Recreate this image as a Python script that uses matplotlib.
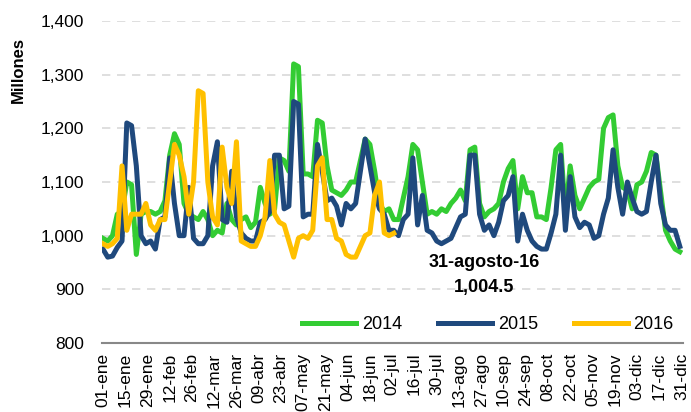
import matplotlib.pyplot as plt
import numpy as np

plt.rcParams['font.family'] = ['Liberation Sans', 'DejaVu Sans']

# valores leidos cada 3 dias (millones)
serie_2014 = [995, 990, 1000, 1040, 1045, 1100, 1095, 965, 1040, 1045, 1045, 1040,
              1045, 1065, 1150, 1190, 1170, 1060, 1040, 1035, 1030, 1045, 1030, 1000,
              1010, 1005, 1060, 1030, 1020, 1030, 1035, 1015, 1025, 1090, 1060, 1040,
              1050, 1145, 1140, 1120, 1320, 1315, 1115, 1115, 1110, 1215, 1210, 1130,
              1085, 1080, 1075, 1085, 1100, 1100, 1140, 1180, 1170, 1120, 1060, 1045,
              1050, 1030, 1030, 1070, 1110, 1170, 1160, 1100, 1040, 1045, 1040, 1050,
              1045, 1060, 1070, 1085, 1065, 1160, 1165, 1060, 1035, 1045, 1050, 1060,
              1100, 1125, 1140, 1050, 1110, 1080, 1080, 1035, 1035, 1030, 1090, 1160,
              1170, 1040, 1130, 1075, 1050, 1070, 1090, 1100, 1105, 1200, 1220, 1225,
              1130, 1090, 1085, 1050, 1095, 1100, 1120, 1155, 1150, 1080, 1010, 990,
              975, 970]
serie_2015 = [975, 960, 962, 978, 990, 1210, 1205, 1130, 1000, 985, 990, 975,
              1030, 1035, 1145, 1060, 1000, 1000, 1090, 995, 985, 985, 1000, 1130,
              1175, 1030, 1025, 1120, 1035, 1005, 995, 990, 990, 1025, 1030, 1045,
              1150, 1150, 1050, 1055, 1250, 1245, 1035, 1040, 1040, 1170, 1120, 1065,
              1070, 1055, 1020, 1060, 1050, 1060, 1120, 1180, 1130, 1080, 1050, 1040,
              1010, 1010, 1000, 1030, 1040, 1145, 1020, 1075, 1010, 1005, 990, 985,
              990, 995, 1015, 1035, 1040, 1150, 1150, 1040, 1010, 1020, 1000, 1025,
              1065, 1075, 1110, 990, 1040, 1010, 990, 980, 975, 975, 1005, 1040,
              1150, 1010, 1110, 1035, 1015, 1025, 1020, 995, 1000, 1040, 1070, 1160,
              1090, 1040, 1100, 1070, 1045, 1040, 1045, 1100, 1150, 1060, 1020, 1010,
              1010, 980]
serie_2016 = [985, 980, 985, 995, 1130, 1010, 1040, 1040, 1040, 1060, 1020, 1010,
              1030, 1030, 1100, 1170, 1150, 1110, 1040, 1100, 1270, 1265, 1100, 1035,
              1020, 1165, 1090, 1060, 1175, 990, 985, 980, 980, 1000, 1035, 1140,
              1040, 1025, 1020, 990, 960, 995, 1000, 995, 1010, 1130, 1145, 1030,
              1030, 995, 990, 965, 960, 960, 980, 1000, 1005, 1075, 1100, 1005,
              1000, 1004.5]

etiquetas = ['01-ene', '15-ene', '29-ene', '12-feb', '26-feb', '12-mar', '26-mar',
             '09-abr', '23-abr', '07-may', '21-may', '04-jun', '18-jun', '02-jul',
             '16-jul', '30-jul', '13-ago', '27-ago', '10-sep', '24-sep', '08-oct',
             '22-oct', '05-nov', '19-nov', '03-dic', '17-dic', '31-dic']

dias_2014 = np.arange(len(serie_2014)) * 3
dias_2015 = np.arange(len(serie_2015)) * 3
dias_2016 = np.arange(len(serie_2016)) * 3

fig = plt.figure(figsize=(6.91, 4.12), dpi=100)
ax = fig.add_axes([102 / 691, 1 - 343 / 412, 581 / 691, 322 / 412])

ax.plot(dias_2014, serie_2014, color='#33CC33', lw=3.6, label='2014', solid_joinstyle='round')
ax.plot(dias_2015, serie_2015, color='#1F497D', lw=3.6, label='2015', solid_joinstyle='round')
ax.plot(dias_2016, serie_2016, color='#FFC000', lw=3.6, label='2016', solid_joinstyle='round')

ax.set_xlim(-0.6, 365)
ax.set_ylim(800, 1400)
ax.set_yticks(range(800, 1401, 100))
ax.set_yticklabels([f'{v:,}' for v in range(800, 1401, 100)], fontsize=12.5)
ax.set_xticks(np.arange(len(etiquetas)) * 14)
ax.set_xticklabels(etiquetas, rotation=90, fontsize=12.5)
ax.tick_params(axis='x', length=0, pad=7)
ax.tick_params(axis='y', length=0, pad=13)

for v in range(900, 1401, 100):
    ax.axhline(v, color='#D9D9D9', lw=1.2, ls=(0, (5, 4)), zorder=0)

for s in ['top', 'right', 'left']:
    ax.spines[s].set_visible(False)
ax.spines['bottom'].set_color('#888888')
ax.spines['bottom'].set_linewidth(1.5)

fig.text(18 / 691, 1 - 70 / 412, 'Millones', rotation=90, fontsize=12,
         fontweight='bold', ha='center', va='center')

ax.text(240, 950, '31-agosto-16', fontsize=13, fontweight='bold', ha='center', va='center')
ax.text(240, 903, '1,004.5', fontsize=13, fontweight='bold', ha='center', va='center')

ax.legend(loc='lower right', bbox_to_anchor=(1.012, -0.02), ncol=3, frameon=False,
          fontsize=13, handlelength=3.0, columnspacing=2.0, handletextpad=0.3)

fig.savefig('out.png', dpi=100)
